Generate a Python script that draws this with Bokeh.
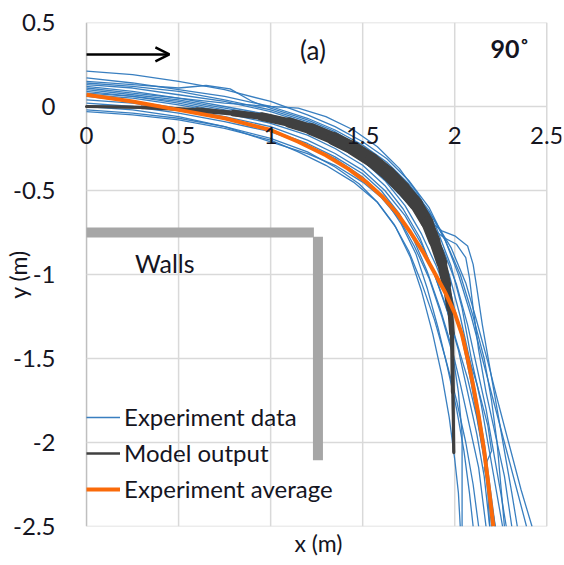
from bokeh.plotting import figure
from bokeh.models import Range1d, Legend, LegendItem, Arrow, OpenHead, Title, Label
from bokeh.embed import file_html
from bokeh.resources import INLINE

FONT = "Lato"
TEXT_COLOR = "#15151f"

# Axis ticks and their labels
x_ticks = [0, 0.5, 1, 1.5, 2, 2.5]
x_tick_labels = ["0", "0.5", "1", "1.5", "2", "2.5"]
y_ticks = [0.5, 0, -0.5, -1, -1.5, -2, -2.5]
y_tick_labels = ["0.5", "0", "-0.5", "-1", "-1.5", "-2", "-2.5"]
x_min, x_max = 0, 2.5
y_min, y_max = -2.5, 0.5

# Experimental trajectories (x, y in metres)
exp_x = [
    [0, 0.25, 0.5, 0.75, 1.0, 1.2, 1.35, 1.5, 1.63, 1.75, 1.86, 1.95, 2.02, 2.09, 2.15, 2.21, 2.27, 2.33, 2.39],
    [0, 0.25, 0.5, 0.65, 0.78, 0.9, 1.0, 1.2, 1.35, 1.5, 1.62, 1.72, 1.82, 1.90, 1.97, 2.03, 2.08, 2.12, 2.16, 2.19, 2.22],
    [0, 0.25, 0.5, 0.75, 1.0, 1.15, 1.3, 1.45, 1.58, 1.70, 1.80, 1.90, 1.98, 2.04, 2.09, 2.14, 2.18, 2.22, 2.26],
    [0, 0.25, 0.5, 0.75, 1.0, 1.2, 1.35, 1.5, 1.62, 1.74, 1.84, 1.93, 2.0, 2.07, 2.10, 2.12, 2.15, 2.19, 2.23, 2.27, 2.31, 2.34],
    [0, 0.25, 0.5, 0.75, 1.0, 1.2, 1.35, 1.5, 1.62, 1.74, 1.85, 1.94, 2.01, 2.06, 2.08, 2.10, 2.13, 2.17, 2.22, 2.27, 2.31],
    [0, 0.25, 0.5, 0.75, 1.0, 1.15, 1.3, 1.45, 1.58, 1.68, 1.76, 1.82, 1.88, 1.93, 1.97, 2.0, 2.02, 2.03],
    [0, 0.25, 0.5, 0.75, 1.0, 1.2, 1.35, 1.5, 1.62, 1.71, 1.79, 1.85, 1.91, 1.96, 2.01, 2.05, 2.08, 2.10],
    [0, 0.25, 0.5, 0.75, 1.0, 1.2, 1.35, 1.5, 1.62, 1.73, 1.82, 1.89, 1.96, 2.02, 2.07, 2.12, 2.16, 2.19],
    [0, 0.25, 0.5, 0.75, 1.0, 1.2, 1.35, 1.5, 1.62, 1.73, 1.83, 1.91, 1.98, 2.04, 2.09, 2.13, 2.17, 2.20],
    [0, 0.25, 0.5, 0.75, 1.0, 1.2, 1.35, 1.5, 1.6, 1.70, 1.78, 1.85, 1.92, 1.98, 2.03, 2.08, 2.13, 2.17],
    [0, 0.25, 0.5, 0.75, 1.0, 1.2, 1.35, 1.5, 1.6, 1.70, 1.78, 1.86, 1.93, 1.99, 2.02, 2.04, 2.04, 2.04],
    [0, 0.25, 0.5, 0.75, 1.0, 1.2, 1.35, 1.5, 1.63, 1.75, 1.85, 1.94, 2.01, 2.07, 2.12, 2.17, 2.21, 2.25, 2.28],
    [0, 0.25, 0.5, 0.75, 1.0, 1.2, 1.35, 1.5, 1.63, 1.75, 1.86, 1.95, 2.03, 2.10, 2.16, 2.20, 2.23, 2.25, 2.27],
    [0, 0.25, 0.5, 0.75, 1.0, 1.2, 1.35, 1.48, 1.58, 1.67, 1.75, 1.82, 1.89, 1.95, 2.01, 2.06, 2.10, 2.13],
    [0, 0.25, 0.5, 0.75, 1.0, 1.2, 1.35, 1.5, 1.62, 1.73, 1.82, 1.90, 1.98, 2.05, 2.12, 2.18, 2.20, 2.16, 2.19, 2.22],
    [0, 0.25, 0.5, 0.75, 1.0, 1.2, 1.35, 1.5, 1.63, 1.76, 1.88, 1.98, 2.06, 2.12, 2.18, 2.24, 2.30, 2.36, 2.42],
    [0, 0.25, 0.5, 0.75, 1.0, 1.2, 1.35, 1.5, 1.62, 1.72, 1.81, 1.88, 1.95, 2.01, 2.07, 2.12, 2.16, 2.18, 2.19],
]
exp_y = [
    [0.21, 0.19, 0.15, 0.10, 0.03, -0.05, -0.12, -0.21, -0.31, -0.44, -0.60, -0.80, -1.0, -1.25, -1.5, -1.75, -2.0, -2.25, -2.5],
    [0.15, 0.13, 0.11, 0.125, 0.105, 0.03, -0.01, -0.08, -0.15, -0.25, -0.35, -0.47, -0.62, -0.80, -1.0, -1.25, -1.5, -1.75, -2.0, -2.25, -2.5],
    [0.12, 0.09, 0.05, 0.02, 0.0, -0.01, -0.06, -0.14, -0.24, -0.37, -0.52, -0.72, -0.95, -1.2, -1.5, -1.75, -2.0, -2.25, -2.5],
    [0.10, 0.07, 0.04, -0.01, -0.06, -0.12, -0.19, -0.28, -0.39, -0.53, -0.66, -0.74, -0.77, -0.83, -0.94, -1.08, -1.3, -1.55, -1.8, -2.05, -2.3, -2.5],
    [0.08, 0.06, 0.02, -0.03, -0.08, -0.14, -0.21, -0.31, -0.43, -0.57, -0.70, -0.78, -0.82, -0.90, -1.02, -1.2, -1.45, -1.7, -1.95, -2.2, -2.5],
    [-0.03, -0.05, -0.08, -0.13, -0.20, -0.27, -0.35, -0.45, -0.57, -0.72, -0.90, -1.1, -1.35, -1.6, -1.85, -2.1, -2.3, -2.5],
    [0.02, 0.0, -0.04, -0.09, -0.15, -0.23, -0.31, -0.42, -0.55, -0.70, -0.88, -1.08, -1.32, -1.55, -1.8, -2.05, -2.3, -2.5],
    [0.06, 0.03, -0.01, -0.06, -0.12, -0.20, -0.28, -0.38, -0.50, -0.65, -0.82, -1.0, -1.22, -1.45, -1.7, -1.95, -2.2, -2.5],
    [0.13, 0.11, 0.07, 0.03, -0.03, -0.10, -0.17, -0.27, -0.38, -0.52, -0.70, -0.90, -1.12, -1.38, -1.65, -1.9, -2.15, -2.5],
    [0.04, 0.02, -0.02, -0.07, -0.14, -0.22, -0.30, -0.40, -0.50, -0.64, -0.80, -0.98, -1.2, -1.42, -1.65, -1.9, -2.15, -2.5],
    [0.0, -0.02, -0.06, -0.12, -0.21, -0.28, -0.35, -0.45, -0.54, -0.67, -0.83, -1.02, -1.25, -1.48, -1.7, -1.95, -2.2, -2.5],
    [0.11, 0.08, 0.05, 0.0, -0.05, -0.11, -0.18, -0.27, -0.38, -0.52, -0.68, -0.86, -1.06, -1.3, -1.55, -1.8, -2.05, -2.3, -2.5],
    [0.17, 0.14, 0.10, 0.06, 0.0, -0.07, -0.14, -0.23, -0.33, -0.46, -0.62, -0.80, -1.0, -1.25, -1.5, -1.75, -2.0, -2.25, -2.5],
    [-0.02, -0.04, -0.07, -0.12, -0.19, -0.27, -0.36, -0.46, -0.57, -0.70, -0.86, -1.05, -1.27, -1.5, -1.75, -2.0, -2.25, -2.5],
    [0.09, 0.06, 0.03, -0.02, -0.08, -0.15, -0.22, -0.32, -0.44, -0.59, -0.76, -0.95, -1.17, -1.4, -1.65, -1.9, -2.05, -2.15, -2.3, -2.5],
    [0.14, 0.12, 0.09, 0.04, -0.02, -0.09, -0.16, -0.25, -0.35, -0.49, -0.66, -0.84, -1.05, -1.28, -1.52, -1.78, -2.03, -2.28, -2.5],
    [0.07, 0.05, 0.01, -0.04, -0.10, -0.17, -0.25, -0.35, -0.47, -0.61, -0.78, -0.97, -1.18, -1.4, -1.62, -1.85, -2.1, -2.3, -2.5],
]

# Mean of the experiments
avg_x = [0, 0.25, 0.5, 0.75, 1.0, 1.15, 1.3, 1.42, 1.52, 1.61, 1.69, 1.76, 1.83, 1.89, 1.95,
         2.0, 2.04, 2.07, 2.10, 2.13, 2.16, 2.185, 2.21]
avg_y = [0.07, 0.03, -0.02, -0.07, -0.14, -0.21, -0.29, -0.37, -0.45, -0.54, -0.64, -0.75, -0.87, -0.99, -1.11,
         -1.23, -1.36, -1.50, -1.66, -1.84, -2.05, -2.27, -2.5]

# Model output: centre path and the spread of the model runs around it (metres)
model_x = [0, 0.3, 0.6, 0.8, 0.95, 1.1, 1.22, 1.34, 1.45, 1.55, 1.64, 1.72, 1.79, 1.85, 1.89, 1.93,
           1.955, 1.975, 1.985, 1.99, 1.995]
model_y = [0, -0.005, -0.02, -0.04, -0.06, -0.095, -0.135, -0.19, -0.25, -0.32, -0.40, -0.49, -0.58, -0.69,
           -0.80, -0.93, -1.06, -1.2, -1.35, -1.7, -2.06]
model_spread = [0.016, 0.018, 0.024, 0.032, 0.042, 0.052, 0.062, 0.070, 0.075, 0.078, 0.078, 0.077, 0.073,
                0.068, 0.063, 0.057, 0.048, 0.036, 0.026, 0.018, 0.016]

# Wall geometry
wall_xs = [[0, 1.235], [1.257, 1.257]]
wall_ys = [[-0.75, -0.75], [-0.775, -2.105]]

# Walking direction arrow
arrow_x = [0, 0.45]
arrow_y = 0.31

BLUE = "#2e78bd"
DARK = "#404040"
ORANGE = "#fa6a0a"
GRID = "#d9d9d9"

# a little room either side of the data box so the end labels on y = 0 are not cut
PAD_L, PAD_R = 0.06, 0.08
p = figure(width=564, height=565, output_backend="svg", toolbar_location=None,
           x_range=Range1d(x_min - PAD_L, x_max + PAD_R), y_range=Range1d(y_min, y_max),
           min_border_left=75, min_border_right=3, min_border_top=22, min_border_bottom=39)
p.background_fill_color = "white"
p.border_fill_color = "white"
p.outline_line_color = None
p.grid.visible = False

# grid box drawn over the data extent only
p.multi_line(xs=[[t, t] for t in x_ticks], ys=[[y_min, y_max]] * len(x_ticks),
             line_color=[("#bfbfbf" if t == x_min else GRID) for t in x_ticks], line_width=1.5)
p.multi_line(xs=[[x_min, x_max]] * len(y_ticks), ys=[[t, t] for t in y_ticks],
             line_color=GRID, line_width=1.5)

# the x axis runs along y = 0 inside the plot; its labels are placed there
p.xaxis.visible = False
for t, lab in zip(x_ticks, x_tick_labels):
    p.add_layout(Label(x=t, y=0, text=lab, text_align="center", text_baseline="top", y_offset=-20,
                       text_font=FONT, text_font_size="24px", text_color=TEXT_COLOR))

ya = p.yaxis[0]
ya.ticker = y_ticks
ya.major_label_overrides = {t: l for t, l in zip(y_ticks, y_tick_labels)}
ya.axis_line_color = None
ya.major_tick_line_color = None
ya.minor_tick_line_color = None
ya.major_label_standoff = 14
ya.major_label_text_font = FONT
ya.major_label_text_font_size = "24px"
ya.major_label_text_color = TEXT_COLOR
ya.axis_label = "y (m)"
ya.axis_label_text_font = FONT
ya.axis_label_text_font_size = "23px"
ya.axis_label_text_font_style = "normal"
ya.axis_label_text_color = TEXT_COLOR
ya.axis_label_standoff = -22

p.add_layout(Title(text="x (m)", align="center", text_font=FONT, text_font_size="23px",
                   text_font_style="normal", text_color=TEXT_COLOR, offset=0, standoff=0), "below")

# walls
p.multi_line(xs=wall_xs, ys=wall_ys, line_color="#a6a6a6", line_width=10, line_cap="butt")

# experiments
exp_r = p.multi_line(xs=exp_x, ys=exp_y, line_color=BLUE, line_width=1.3, line_alpha=0.95)

# model output: thin path plus band of run spread
model_r = p.line(model_x, model_y, line_color=DARK, line_width=2.5)
px_per_m = 184.0
seg_w = [0.5 * (model_spread[i] + model_spread[i + 1]) * px_per_m for i in range(len(model_x) - 1)]
p.segment(x0=model_x[:-1], y0=model_y[:-1], x1=model_x[1:], y1=model_y[1:],
          line_color=DARK, line_width=seg_w, line_cap="round")

# average
avg_r = p.line(avg_x, avg_y, line_color=ORANGE, line_width=4)

# arrow
p.add_layout(Arrow(x_start=arrow_x[0], y_start=arrow_y, x_end=arrow_x[1], y_end=arrow_y,
                   line_color="black", line_width=2.5,
                   end=OpenHead(size=14, line_color="black", line_width=2.5)))

# annotations
for txt, x, y, style, size in [("(a)", 1.23, 0.335, "normal", "26px"),
                               ("90˚", 2.30, 0.35, "bold", "25px"),
                               ("Walls", 0.425, -0.93, "normal", "25px")]:
    p.add_layout(Label(x=x, y=y, text=txt, text_align="center", text_baseline="middle",
                       text_font=FONT, text_font_size=size, text_font_style=style, text_color=TEXT_COLOR))

legend = Legend(items=[
    LegendItem(label="Experiment data", renderers=[exp_r]),
    LegendItem(label="Model output", renderers=[model_r]),
    LegendItem(label="Experiment average", renderers=[avg_r]),
], location=(PAD_L * 184, 23))
legend.background_fill_alpha = 0
legend.border_line_color = None
legend.padding = 2
legend.margin = 0
legend.spacing = 7
legend.glyph_width = 34
legend.glyph_height = 26
legend.label_height = 26
legend.label_standoff = 4
legend.label_text_font = FONT
legend.label_text_font_size = "24px"
legend.label_text_color = TEXT_COLOR
p.add_layout(legend)

open("out.html", "w").write(file_html(p, INLINE))
